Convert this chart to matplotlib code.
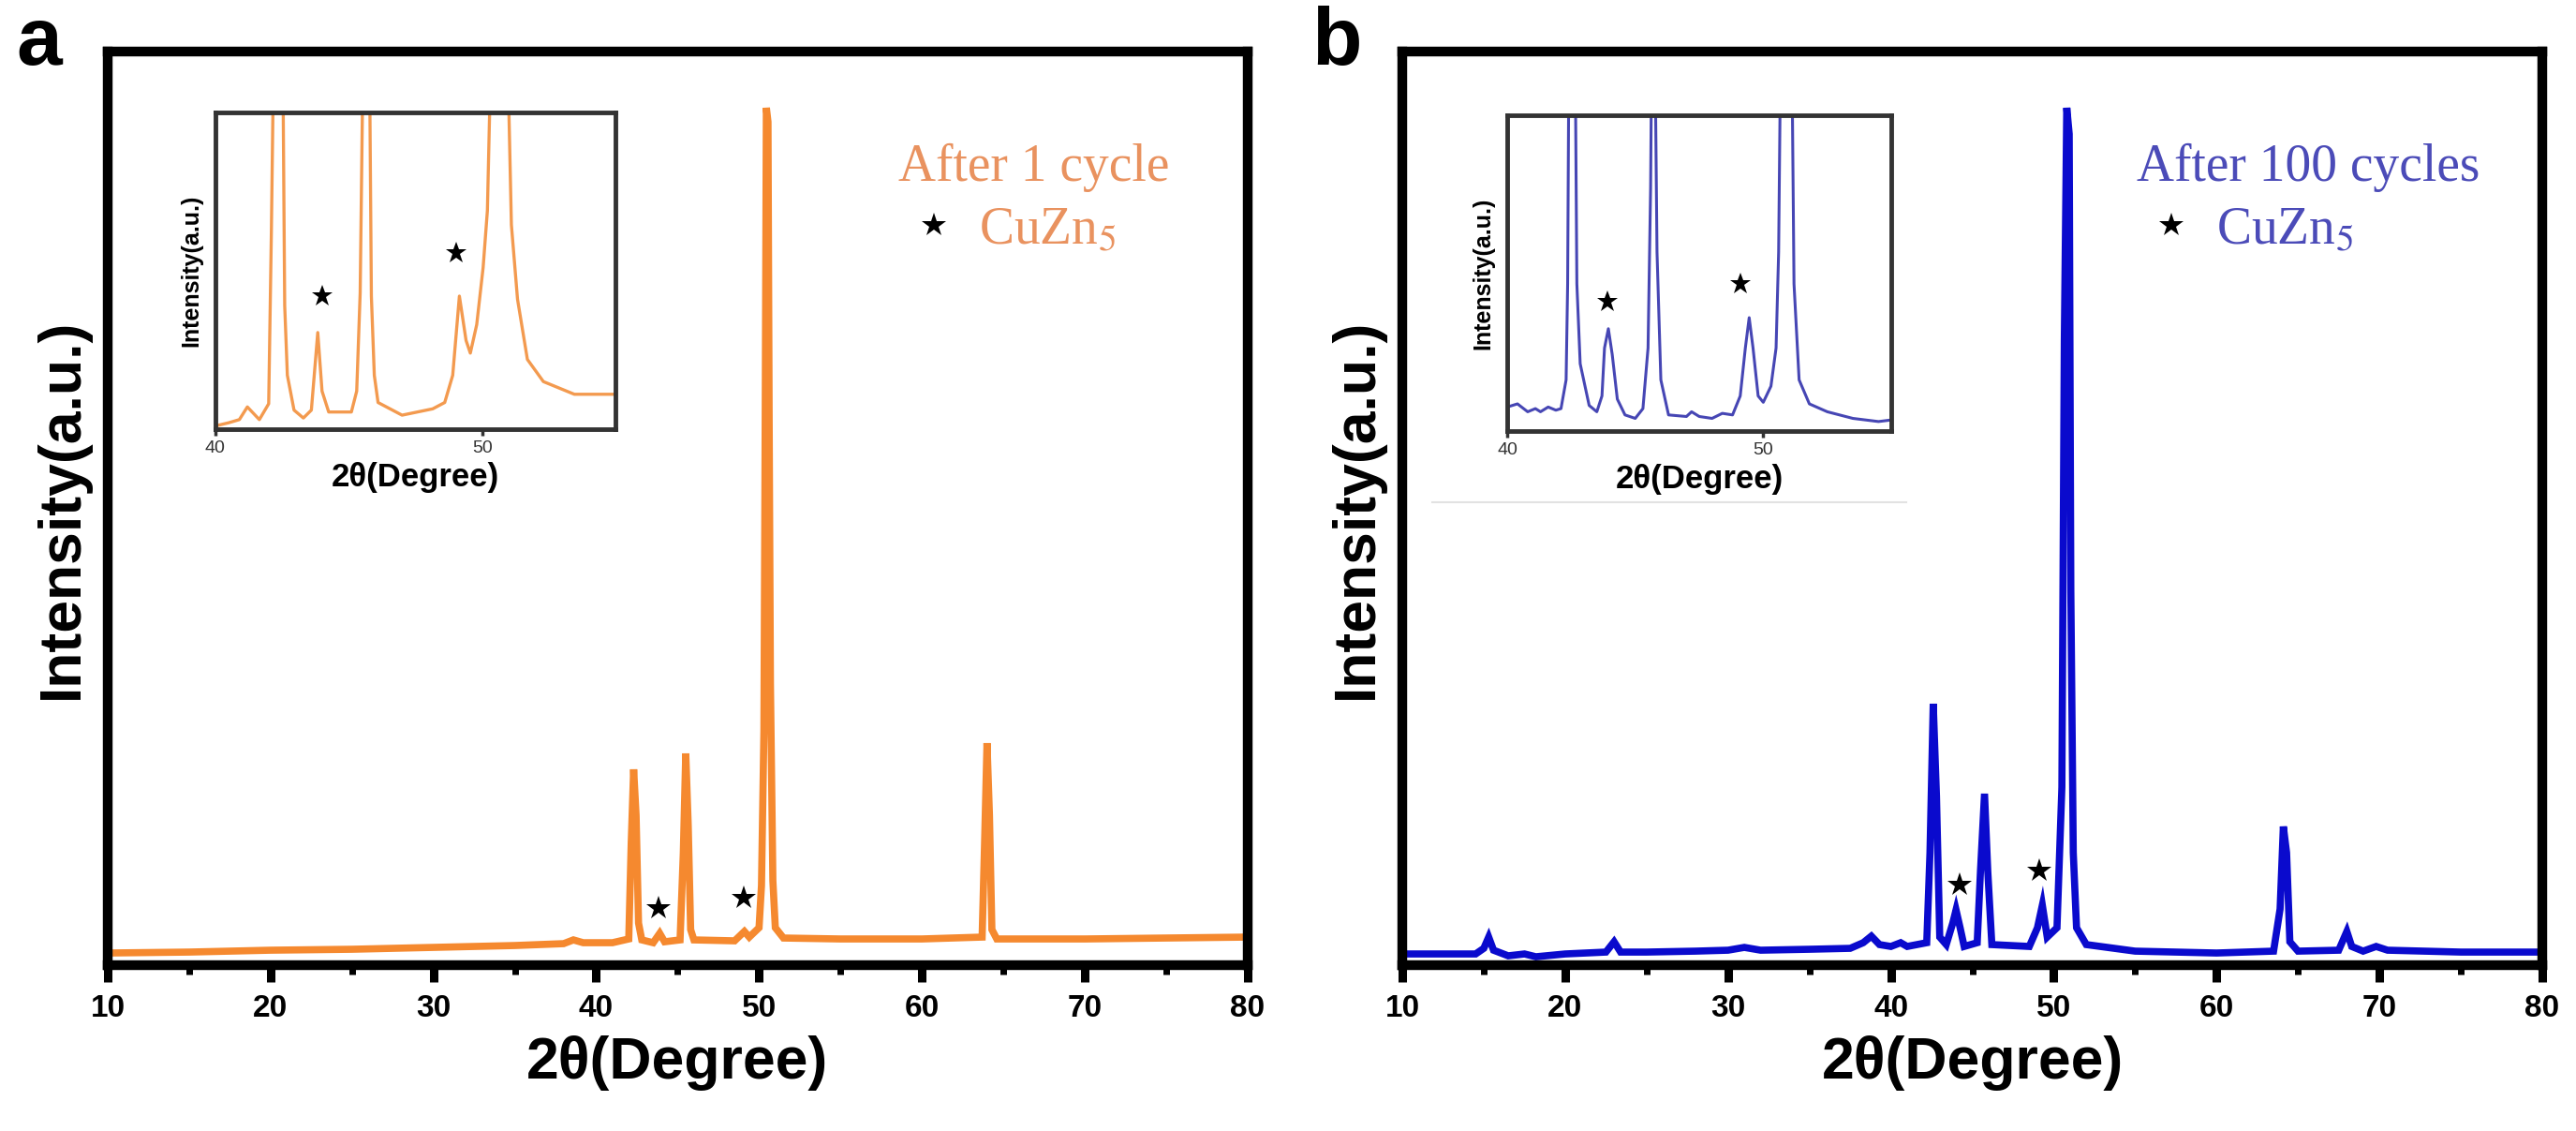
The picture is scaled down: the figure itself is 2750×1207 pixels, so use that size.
import matplotlib
matplotlib.use('Agg')
import matplotlib.pyplot as plt
from matplotlib.lines import Line2D

plt.rcParams['font.family'] = ['Liberation Sans', 'DejaVu Sans']
plt.rcParams['mathtext.fontset'] = 'stix'

# main pattern, after 1 cycle (intensity in a.u.)
a_x = [10, 15, 20, 25, 30, 35, 38.0, 38.6, 39.2, 41.0, 42.0, 42.15, 42.3, 42.45, 42.6, 42.8,
       43.5, 43.9, 44.2, 45.15, 45.35, 45.5, 45.65, 45.8, 46.0, 48.5, 49.1, 49.4,
       50.0, 50.15, 50.3, 50.38, 50.45, 50.55, 50.62, 50.7, 50.85, 51.0, 51.5, 55, 60,
       63.7, 63.85, 64.0, 64.15, 64.3, 64.6, 70, 75, 80]
a_y = [13, 14, 16, 17, 19, 21, 23, 27, 24, 24, 28, 130, 209, 160, 45, 27,
       24, 34, 25, 27, 120, 226, 150, 38, 27, 26, 36, 30,
       40, 85, 250, 587, 915, 900, 587, 300, 90, 40, 29, 28, 28,
       30, 130, 237, 160, 38, 28, 28, 29, 30]

# main pattern, after 100 cycles
b_x = [10, 12, 14.5, 15.0, 15.3, 15.6, 16.5, 17.5, 18.2, 20, 22.5, 23.0, 23.4, 25, 28, 30, 31, 32,
       35, 37.5, 38.3, 38.8, 39.3, 40, 40.6, 41.0, 42.2, 42.4, 42.6, 42.8, 43.0, 43.4, 43.8,
       44.0, 44.25, 44.5, 45.3, 45.5, 45.75, 45.95, 46.2, 48.5, 49.0, 49.3, 49.6, 50.2,
       50.5, 50.65, 50.8, 50.95, 51.05, 51.2, 51.4, 52, 55, 60, 63.5, 63.9, 64.1, 64.3, 64.5, 65,
       67.5, 68.0, 68.3, 69.0, 69.8, 70.5, 75, 80]
b_y = [12, 12, 12, 18, 30, 16, 10, 12, 9, 12, 14, 25, 14, 14, 15, 16, 19, 16,
       17, 18, 24, 31, 22, 20, 24, 20, 24, 120, 279, 180, 30, 22, 45,
       59, 40, 20, 24, 100, 183, 100, 22, 20, 40, 64, 30, 40,
       190, 667, 915, 887, 400, 120, 40, 22, 15, 13, 15, 60, 148, 120, 25, 15,
       16, 36, 20, 15, 20, 16, 14, 14]

# insets, 40-55 deg, intensity as fraction of inset height
ia_x = [40.0, 40.5, 40.9, 41.2, 41.65, 42.0, 42.1, 42.25, 42.4, 42.5, 42.6, 42.7, 42.95, 43.3,
        43.6, 43.84, 44.0, 44.25, 45.1, 45.3, 45.43, 45.6, 45.75, 45.85, 45.96, 46.1, 47.0,
        48.15, 48.6, 48.9, 49.15, 49.4, 49.56, 49.8, 50.04, 50.2, 50.5, 50.8, 51.1, 51.33,
        51.7, 52.3, 53.46, 55.0]
ia_y = [0.01, 0.02, 0.03, 0.07, 0.03, 0.08, 0.62, 1.6, 1.7, 1.5, 0.39, 0.17, 0.06, 0.035,
        0.06, 0.305, 0.12, 0.054, 0.054, 0.12, 0.43, 1.6, 1.5, 0.42, 0.17, 0.084, 0.044,
        0.064, 0.084, 0.17, 0.42, 0.28, 0.24, 0.33, 0.51, 0.69, 1.8, 1.8, 0.645, 0.41,
        0.22, 0.15, 0.11, 0.11]

ib_x = [40.0, 40.4, 40.8, 41.1, 41.3, 41.6, 41.9, 42.1, 42.3, 42.36, 42.45, 42.6, 42.72, 42.85,
        43.2, 43.5, 43.7, 43.8, 43.95, 44.1, 44.3, 44.6, 45.0, 45.3, 45.5, 45.6, 45.7, 45.85,
        46.0, 46.3, 47.0, 47.2, 47.5, 48.0, 48.4, 48.8, 49.1, 49.3, 49.45, 49.6, 49.8, 50.0,
        50.3, 50.5, 50.6, 50.75, 51.05, 51.2, 51.4, 51.8, 52.5, 53.5, 54.5, 55.0]
ib_y = [0.076, 0.086, 0.061, 0.071, 0.061, 0.076, 0.066, 0.071, 0.162, 0.466, 1.8, 1.8, 0.466, 0.213,
        0.081, 0.061, 0.111, 0.263, 0.324, 0.243, 0.101, 0.051, 0.04, 0.071, 0.263, 0.77, 1.8, 0.567,
        0.162, 0.051, 0.046, 0.061, 0.046, 0.04, 0.056, 0.051, 0.111, 0.263, 0.359, 0.263, 0.111, 0.091,
        0.142, 0.263, 0.567, 1.8, 1.8, 0.466, 0.162, 0.086, 0.061, 0.04, 0.03, 0.035]

# CuZn5 star marks
a_star_x = [43.8, 49.05]
a_star_y = [61, 72]
b_star_x = [44.2, 49.1]
b_star_y = [86, 101]
ia_star_x = [43.99, 49.03]
ia_star_y = [0.42, 0.556]
ib_star_x = [43.92, 49.11]
ib_star_y = [0.41, 0.466]

labels = ['After 1 cycle', 'After 100 cycles']
main_ticks = [10, 20, 30, 40, 50, 60, 70, 80]
inset_ticks = [40, 50]


def main_panel(ax, x, y, sx, sy, color, txtcolor, title, tx, letter):
    ax.plot(x, y, color=color, lw=5.5, solid_joinstyle='miter')
    ax.plot(sx, sy, '*', color='black', ms=19, mew=0)
    ax.set_xlim(10, 80)
    ax.set_ylim(0, 975)
    ax.set_xticks(main_ticks)
    ax.set_xticks(range(15, 80, 10), minor=True)
    ax.set_yticks([])
    ax.tick_params(axis='x', which='major', direction='out', length=13, width=6.5, pad=9)
    ax.tick_params(axis='x', which='minor', direction='out', length=7, width=5)
    for lab in ax.get_xticklabels():
        lab.set_fontsize(24)
        lab.set_fontweight('bold')
    for s in ax.spines.values():
        s.set_linewidth(7.5)
    ax.set_xlabel('2θ(Degree)', fontsize=45, fontweight='bold', labelpad=10)
    ax.set_ylabel('Intensity(a.u.)', fontsize=45, fontweight='bold', labelpad=14)
    ax.text(tx, 0.858, title, transform=ax.transAxes, fontsize=40,
            family='Liberation Serif', color=txtcolor)
    ax.plot([tx + 0.031], [0.81], '*', color='black', ms=19, mew=0, transform=ax.transAxes)
    ax.text(tx + 0.07, 0.79, 'CuZn$_5$', transform=ax.transAxes, fontsize=40,
            family='Liberation Serif', color=txtcolor)
    ax.text(-0.08, 0.9856, letter, transform=ax.transAxes, fontsize=63,
            fontweight='bold', va='baseline', ha='left')


def inset_panel(ax, x, y, sx, sy, color, lw):
    ax.plot(x, y, color=color, lw=lw)
    ax.plot(sx, sy, '*', color='black', ms=17, mew=0)
    ax.set_xlim(40, 55)
    ax.set_ylim(0, 1)
    ax.set_xticks(inset_ticks)
    ax.set_yticks([])
    ax.tick_params(axis='x', direction='out', length=5, width=2.5, pad=4, labelsize=14,
                   labelcolor='#333333', color='#333333')
    for s in ax.spines.values():
        s.set_linewidth(3.5)
        s.set_color('#333333')
    ax.set_xlabel('2θ(Degree)', fontsize=25, fontweight='bold', labelpad=4)
    ax.set_ylabel('Intensity(a.u.)', fontsize=18, fontweight='bold', labelpad=10)


fig = plt.figure(figsize=(27.5, 12.07), dpi=100)
ax1 = fig.add_axes([0.0418, 0.1466, 0.4425, 0.8078])
ax2 = fig.add_axes([0.5444, 0.1466, 0.4425, 0.8078])
main_panel(ax1, a_x, a_y, a_star_x, a_star_y, '#F5892F', '#E9925F', labels[0], 0.694, 'a')
main_panel(ax2, b_x, b_y, b_star_x, b_star_y, '#0A0ACD', '#4B4BB8', labels[1], 0.644, 'b')

in1 = fig.add_axes([0.0836, 0.6206, 0.1553, 0.2800])
in2 = fig.add_axes([0.5851, 0.6189, 0.1491, 0.2792])
inset_panel(in1, ia_x, ia_y, ia_star_x, ia_star_y, '#F39A4F', 2.4)
inset_panel(in2, ib_x, ib_y, ib_star_x, ib_star_y, '#4646B4', 2.2)

# faint crop edge under the second inset
fig.add_artist(Line2D([0.556, 0.74], [0.556, 0.556], color='#e2e2e2', lw=1.5))

fig.savefig('out.png', dpi=100)
